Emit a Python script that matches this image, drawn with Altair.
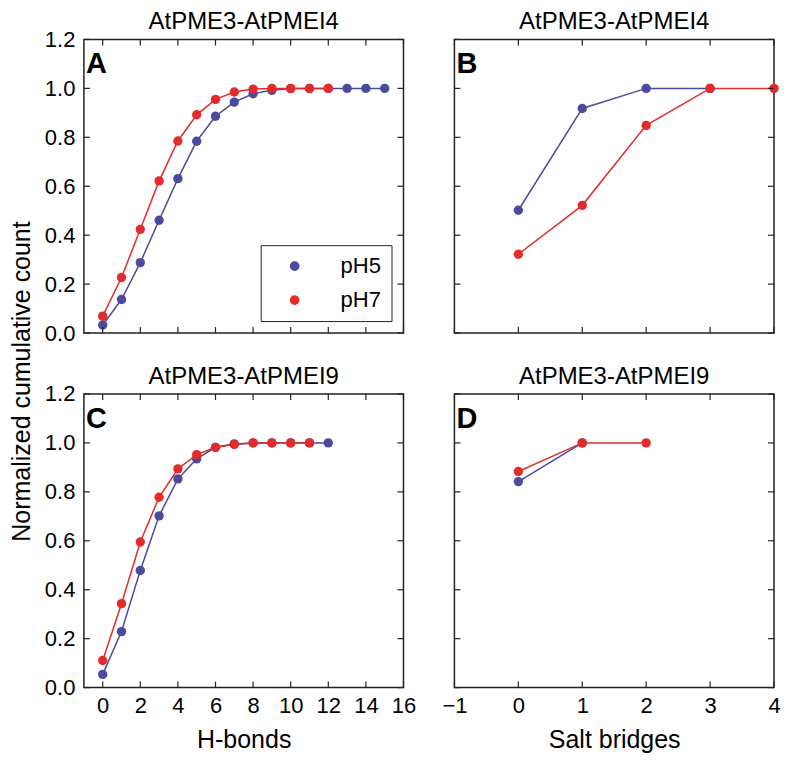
import altair as alt
import pandas as pd

# ---------------- data ----------------
series_names = ["pH5", "pH7"]
series_colors = ["#4b4a9c", "#e32b2b"]

hb_ticks = [0, 2, 4, 6, 8, 10, 12, 14, 16]
sb_ticks = [-1, 0, 1, 2, 3, 4]
y_ticks = [0.0, 0.2, 0.4, 0.6, 0.8, 1.0, 1.2]

# A: AtPME3-AtPMEI4, H-bonds (x = 0, 1, 2, ...)
a_ph5 = [0.033, 0.137, 0.288, 0.461, 0.631, 0.784, 0.886, 0.944, 0.978, 0.992,
         0.999, 1.0, 1.0, 1.0, 1.0, 1.0]
a_ph7 = [0.069, 0.227, 0.424, 0.622, 0.785, 0.892, 0.955, 0.985, 0.997, 1.0,
         1.0, 1.0, 1.0]
# B: AtPME3-AtPMEI4, Salt bridges
b_ph5 = [0.502, 0.918, 1.0, 1.0]
b_ph7 = [0.322, 0.522, 0.849, 1.0, 1.0]
# C: AtPME3-AtPMEI9, H-bonds
c_ph5 = [0.054, 0.229, 0.479, 0.702, 0.853, 0.935, 0.982, 0.996, 1.0, 1.0,
         1.0, 1.0, 1.0]
c_ph7 = [0.111, 0.343, 0.595, 0.778, 0.894, 0.952, 0.982, 0.994, 1.0, 1.0,
         1.0, 1.0]
# D: AtPME3-AtPMEI9, Salt bridges
d_ph5 = [0.842, 1.0]
d_ph7 = [0.883, 1.0, 1.0]

FONT = "Liberation Sans"
W, H = 320, 294
TICK = 6
INK = "#222222"


def make_df(ph5, ph7):
    rows = [{"x": i, "y": v, "series": "pH5"} for i, v in enumerate(ph5)]
    rows += [{"x": i, "y": v, "series": "pH7"} for i, v in enumerate(ph7)]
    return pd.DataFrame(rows)


def panel(ph5, ph7, xdom, xticks, title, letter, xtitle, bottom, left, legend):
    df = make_df(ph5, ph7)
    xscale = alt.Scale(domain=xdom, nice=False, zero=False)
    yscale = alt.Scale(domain=[0, 1.2], nice=False, zero=False)
    cscale = alt.Scale(domain=series_names, range=series_colors)
    if bottom:
        xaxis = alt.Axis(values=xticks, format="d", title=xtitle, ticks=False,
                         tickSize=0, domain=False, grid=False, labelPadding=8,
                         titlePadding=11, labelFlush=False, labelOverlap=False)
    else:
        xaxis = None
    # right-hand panels keep invisible labels so that every panel has the
    # same bounds (keeps panel titles aligned)
    yaxis = alt.Axis(values=y_ticks, format=".1f", title=None, ticks=False,
                     tickSize=0, domain=False, grid=False, labelPadding=9,
                     labelFlush=False, labelOverlap=False,
                     labelOpacity=1 if left else 0)
    if legend:
        leg = alt.Legend(title=None, orient="bottom-right", offset=12,
                         strokeColor=INK, fillColor="white", padding=10,
                         labelFontSize=22, labelFont=FONT, labelColor="black",
                         symbolSize=95, symbolType="circle", symbolOffset=13,
                         labelOffset=35, rowPadding=12, symbolStrokeWidth=0)
    else:
        leg = None

    X = lambda f: alt.X(f, scale=xscale, axis=xaxis)
    Y = lambda f: alt.Y(f, scale=yscale, axis=yaxis)

    layers = []
    for name, col in zip(series_names, series_colors):
        base = alt.Chart(df).transform_filter(alt.datum.series == name)
        layers.append(base.mark_line(strokeWidth=1.5, color=col).encode(
            x=X("x:Q"), y=Y("y:Q")))
        layers.append(base.mark_circle(size=88, opacity=1).encode(
            x=X("x:Q"), y=Y("y:Q"),
            color=alt.Color("series:N", scale=cscale, legend=leg)))

    xt = alt.Chart(pd.DataFrame({"t": xticks}))
    yt = alt.Chart(pd.DataFrame({"t": y_ticks}))
    rule = dict(color=INK, strokeWidth=1.2)
    layers.append(xt.mark_rule(**rule).encode(
        x=X("t:Q"), y=alt.value(H), y2=alt.value(H - TICK)))
    layers.append(xt.mark_rule(**rule).encode(
        x=X("t:Q"), y=alt.value(0), y2=alt.value(TICK)))
    layers.append(yt.mark_rule(**rule).encode(
        y=Y("t:Q"), x=alt.value(0), x2=alt.value(TICK)))
    layers.append(yt.mark_rule(**rule).encode(
        y=Y("t:Q"), x=alt.value(W), x2=alt.value(W - TICK)))

    lab = alt.Chart(pd.DataFrame({"l": [letter]})).mark_text(
        fontSize=29, fontWeight="bold", font=FONT, align="left",
        baseline="alphabetic", color="black").encode(
        text="l:N", x=alt.value(2), y=alt.value(34))
    layers.append(lab)

    return alt.layer(*layers).properties(
        width=W, height=H,
        title=alt.TitleParams(title, fontSize=24, font=FONT, fontWeight="normal",
                              color="black", offset=-6, anchor="middle"))


pA = panel(a_ph5, a_ph7, [-1, 16], hb_ticks, "AtPME3-AtPMEI4", "A", "H-bonds",
           False, True, True)
pB = panel(b_ph5, b_ph7, [-1, 4], sb_ticks, "AtPME3-AtPMEI4", "B", "Salt bridges",
           False, False, False)
pC = panel(c_ph5, c_ph7, [-1, 16], hb_ticks, "AtPME3-AtPMEI9", "C", "H-bonds",
           True, True, False)
pD = panel(d_ph5, d_ph7, [-1, 4], sb_ticks, "AtPME3-AtPMEI9", "D", "Salt bridges",
           True, False, False)

chart = alt.concat(
    pA, pB, pC, pD, columns=2, spacing={"row": 61, "column": 51}, bounds="flush"
).resolve_scale(
    color="independent", x="independent", y="independent"
).properties(
    padding={"left": 1, "top": 1, "right": 0, "bottom": 0},
    title=alt.TitleParams("Normalized cumulative count", orient="left",
                          anchor="middle", fontSize=25, font=FONT,
                          fontWeight="normal", color="black", offset=9),
).configure_view(
    stroke=INK, strokeWidth=1.5
).configure_axis(
    labelFont=FONT, labelFontSize=22, labelColor="black",
    titleFont=FONT, titleFontSize=25, titleFontWeight="normal", titleColor="black"
)

chart.save("out.html", embed_options={"renderer": "svg", "actions": False})
